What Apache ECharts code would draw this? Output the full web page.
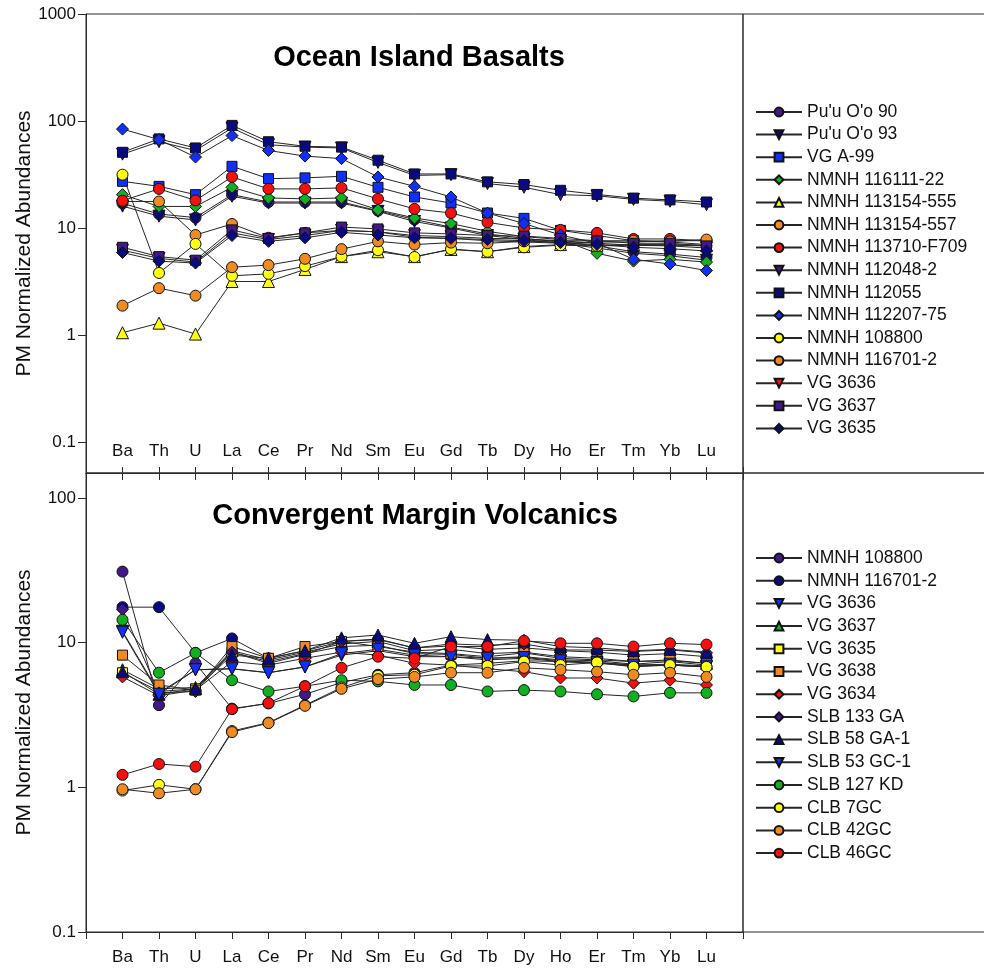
<!DOCTYPE html>
<html>
<head>
<meta charset="utf-8">
<script src="https://cdn.jsdelivr.net/npm/echarts@6/dist/echarts.min.js"></script>
<style>
  html, body { margin: 0; padding: 0; background: #fff; }
  #chart { width: 984px; height: 970px; }
</style>
</head>
<body>
<div id="chart"></div>
<script>
// element order on the x axis
const ELEMENTS = ['Ba', 'Th', 'U', 'La', 'Ce', 'Pr', 'Nd', 'Sm', 'Eu', 'Gd', 'Tb', 'Dy', 'Ho', 'Er', 'Tm', 'Yb', 'Lu'];
// decade ticks of the log axes
const OIB_TICKS = [0.1, 1, 10, 100, 1000];
const CMV_TICKS = [0.1, 1, 10, 100];

// ---------------------------------------------------------------------------
// Ocean Island Basalts (top panel)
const oibNames = ["Pu'u O'o 90", "Pu'u O'o 93", 'VG A-99', 'NMNH 116111-22', 'NMNH 113154-555',
  'NMNH 113154-557', 'NMNH 113710-F709', 'NMNH 112048-2', 'NMNH 112055', 'NMNH 112207-75',
  'NMNH 108800', 'NMNH 116701-2', 'VG 3636', 'VG 3637', 'VG 3635'];

const puuOo90      = [17, 13.5, 12.5, 20.5, 17.5, 17.5, 17.5, 14.5, 12, 10.2, 8.8, 8.0, 7.4, 6.8, 6.0, 5.7, 5.3];
const puuOo93      = [16, 12.9, 11.9, 19.8, 17.1, 17.1, 17.1, 14.3, 11.5, 10, 8.5, 7.8, 7.2, 6.5, 5.8, 5.5, 5.0];
const vgA99        = [27.3, 24.5, 20.5, 37.7, 28.9, 29.4, 30.4, 24, 19.5, 17.1, 13.8, 12.3, 9.5, 8.5, 7.6, 7.4, 7.0];
const n116111_22   = [20.5, 15.9, 15.9, 24, 19.1, 18.7, 19.1, 14.8, 12.4, 11, 9.3, 8.3, 7.8, 5.8, 4.9, 5.1, 4.8];
const n113154_555  = [1.05, 1.29, 1.02, 3.16, 3.16, 4.1, 5.4, 6.0, 5.4, 6.3, 6.0, 6.7, 7.0, 6.9, 7.0, 7.0, 6.9];
const n113154_557  = [17.7, 17.7, 8.6, 10.9, 8.1, 9.0, 9.5, 9.2, 8.2, 8.0, 7.6, 7.4, 7.2, 7.4, 7.4, 7.6, 7.6];
const n113710_F709 = [18, 23.2, 18.1, 30, 23.2, 23.2, 23.7, 18.7, 15.1, 13.8, 11.3, 10.0, 9.6, 9.0, 7.9, 7.9, 7.6];
const n112048_2    = [49, 64, 53, 86, 60, 57, 56, 41, 31, 31.5, 26, 24, 20.5, 20, 18.5, 17.8, 16.5];
const n112055      = [51, 68, 56, 91, 64, 58, 57, 43, 32, 32, 27, 25.5, 22.5, 20.6, 19, 18.3, 17.5];
const n112207_75   = [84, 67, 46, 73, 53, 47, 44.5, 30, 24.5, 19.5, 13.8, 11, 8.6, 7.2, 5.1, 4.6, 4.0];
const oib108800    = [31.5, 3.8, 7.1, 3.57, 3.73, 4.4, 5.4, 6.2, 5.35, 6.35, 6.0, 6.6, 6.9, 6.8, 6.9, 6.9, 6.8];
const oib116701_2  = [1.88, 2.74, 2.33, 4.3, 4.5, 5.15, 6.35, 7.5, 7.0, 7.3, 7.2, 7.5, 7.6, 7.6, 7.6, 7.5, 7.8];
const oibVg3636    = [6.2, 5.2, 4.8, 9.0, 7.8, 8.5, 9.5, 9.2, 8.5, 8.3, 8.0, 7.9, 7.6, 7.2, 6.9, 6.8, 6.5];
const oibVg3637    = [6.6, 5.4, 5.0, 9.6, 8.0, 9.0, 10.2, 9.8, 9.0, 8.8, 8.5, 8.4, 8.0, 7.6, 7.2, 7.2, 6.8];
const oibVg3635    = [5.9, 4.9, 4.7, 8.5, 7.5, 8.1, 9.1, 8.6, 8.1, 8.0, 7.8, 7.6, 7.3, 7.0, 6.6, 6.4, 6.1];

// ---------------------------------------------------------------------------
// Convergent Margin Volcanics (bottom panel)
const cmvNames = ['NMNH 108800', 'NMNH 116701-2', 'VG 3636', 'VG 3637', 'VG 3635', 'VG 3638', 'VG 3634',
  'SLB 133 GA', 'SLB 58 GA-1', 'SLB 53 GC-1', 'SLB 127 KD', 'CLB 7GC', 'CLB 42GC', 'CLB 46GC'];

const cmv108800   = [31, 3.7, 7.2, 3.5, 3.8, 4.4, 5.3, 6.0, 6.2, 7.0, 7.2, 7.5, 7.4, 7.3, 7.0, 7.0, 6.8];
const cmv116701_2 = [17.6, 17.6, 8.5, 10.7, 7.8, 8.8, 10.2, 10.5, 9.2, 9.5, 9.0, 9.2, 8.8, 8.6, 8.2, 8.4, 8.0];
const cmvVg3636   = [12, 4.5, 6.5, 6.6, 6.2, 6.8, 8.2, 8.8, 8.0, 8.0, 7.6, 7.8, 7.4, 7.2, 6.9, 7.0, 6.8];
const cmvVg3637   = [6.5, 4.8, 4.9, 8.8, 7.6, 8.6, 9.8, 10.2, 8.8, 9.0, 8.4, 8.6, 8.0, 7.8, 7.4, 7.5, 7.2];
const cmvVg3635   = [6.2, 4.6, 4.8, 8.6, 7.4, 8.4, 9.4, 9.6, 8.4, 8.3, 7.8, 8.0, 7.6, 7.5, 7.1, 7.4, 7.0];
const cmvVg3638   = [8.2, 5.1, 4.7, 9.4, 7.8, 9.4, 10.2, 9.4, 8.6, 8.4, 8.0, 8.5, 7.8, 7.6, 7.4, 7.6, 7.2];
const cmvVg3634   = [5.8, 4.3, 4.7, 7.4, 7.0, 7.8, 8.6, 8.2, 7.2, 7.0, 6.6, 6.3, 5.7, 5.7, 5.25, 5.5, 5.1];
const slb133GA    = [17, 4.5, 4.6, 8.6, 7.2, 8.3, 10.2, 10.6, 9.2, 9.8, 9.6, 9.8, 8.9, 8.9, 8.7, 8.9, 8.5];
const slb58GA1    = [6.3, 4.4, 4.8, 8.2, 7.8, 8.8, 10.8, 11.3, 9.9, 11.0, 10.5, 10.4, 9.4, 9.2, 8.8, 9.0, 8.6];
const slb53GC1    = [11.8, 4.4, 6.5, 6.6, 6.2, 6.8, 8.4, 9.0, 8.2, 8.0, 7.8, 7.9, 7.5, 7.3, 7.0, 7.1, 6.9];
const slb127KD    = [14.4, 6.2, 8.5, 5.5, 4.6, 5.0, 5.5, 5.4, 5.1, 5.1, 4.6, 4.7, 4.6, 4.4, 4.25, 4.5, 4.5];
const clb7GC      = [0.95, 1.04, 0.97, 2.45, 2.8, 3.7, 4.9, 5.9, 6.0, 6.9, 6.9, 7.4, 7.0, 7.3, 6.8, 7.0, 6.8];
const clb42GC     = [0.97, 0.91, 0.97, 2.41, 2.78, 3.66, 4.8, 5.6, 5.8, 6.2, 6.2, 6.7, 6.5, 6.3, 6.0, 6.2, 5.8];
const clb46GC     = [1.22, 1.45, 1.39, 3.47, 3.82, 5.0, 6.7, 8.0, 7.8, 9.4, 9.4, 10.3, 9.9, 9.9, 9.4, 9.9, 9.7];

const oibValues = [puuOo90, puuOo93, vgA99, n116111_22, n113154_555, n113154_557, n113710_F709,
  n112048_2, n112055, n112207_75, oib108800, oib116701_2, oibVg3636, oibVg3637, oibVg3635];
const cmvValues = [cmv108800, cmv116701_2, cmvVg3636, cmvVg3637, cmvVg3635, cmvVg3638, cmvVg3634,
  slb133GA, slb58GA1, slb53GC1, slb127KD, clb7GC, clb42GC, clb46GC];

// ---------------------------------------------------------------------------
// styles
const PURPLE = '#401888', NAVY = '#0a0a80', BLUE = '#1030f5', GREEN = '#10b020',
  YELLOW = '#ffff10', ORANGE = '#f08a22', RED = '#f51010';
const DOWN = 'path://M0,0 L10,0 L5,9 Z';
const UP = 'path://M5,0 L10,9 L0,9 Z';

const oibStyles = [['circle', PURPLE], [DOWN, NAVY], ['rect', BLUE], ['diamond', GREEN], [UP, YELLOW],
  ['circle', ORANGE], ['circle', RED], [DOWN, PURPLE], ['rect', NAVY], ['diamond', BLUE],
  ['circle', YELLOW], ['circle', ORANGE], [DOWN, RED], ['rect', PURPLE], ['diamond', NAVY]];
const cmvStyles = [['circle', PURPLE], ['circle', NAVY], [DOWN, BLUE], [UP, GREEN], ['rect', YELLOW],
  ['rect', ORANGE], ['diamond', RED], ['diamond', PURPLE], [UP, NAVY], [DOWN, BLUE],
  ['circle', GREEN], ['circle', YELLOW], ['circle', ORANGE], ['circle', RED]];

const fontFamily = '"Liberation Sans", Arial, sans-serif';
const frameColor = '#2a2a2a';

// bottom names get a trailing space so the two legends don't share icons
const cmvKeys = cmvNames.map(function (n) { return n + ' '; });

function logLabel(v) {
  const e = Math.log10(v);
  if (Math.abs(e - Math.round(e)) > 1e-6) return '';
  return String(+Math.pow(10, Math.round(e)).toPrecision(1));
}

function makeSeries(names, values, styles, idx) {
  return names.map(function (name, k) {
    const sym = styles[k][0];
    return {
      name: name,
      type: 'line',
      xAxisIndex: idx === 0 ? 0 : 1,
      yAxisIndex: idx,
      data: values[k].map(function (v, i) { return [i, v]; }),
      symbol: sym,
      symbolSize: sym === 'circle' ? 11 : (sym === 'rect' ? 10 : 12),
      lineStyle: { color: '#262626', width: 1 },
      itemStyle: { color: styles[k][1], borderColor: '#111', borderWidth: 1 },
      emphasis: { disabled: true }
    };
  });
}

function xAxisBase(gridIndex) {
  return {
    gridIndex: gridIndex,
    type: 'value',
    min: -1,
    max: 17,
    interval: 1,
    splitLine: { show: false },
    axisLine: { show: true, onZero: false, lineStyle: { color: frameColor, width: 1 } }
  };
}

function yAxisBase(gridIndex, min, max, ticks) {
  return {
    gridIndex: gridIndex,
    type: 'log',
    logBase: 10,
    min: min,
    max: max,
    name: 'PM Normalized Abundances',
    nameLocation: 'middle',
    nameGap: 51,
    nameMoveOverlap: false,
    nameTextStyle: { fontSize: 21, fontFamily: fontFamily, color: '#111' },
    splitLine: { show: false },
    minorTick: { show: false },
    axisLine: { show: true, onZero: false, lineStyle: { color: frameColor, width: 1 } },
    axisTick: { show: true, length: 8, customValues: ticks, lineStyle: { color: frameColor } },
    axisLabel: { formatter: logLabel, customValues: ticks, margin: 10, fontSize: 17,
      fontFamily: fontFamily, color: '#111' }
  };
}

const xTop = xAxisBase(0);
xTop.axisTick = { show: true, inside: true, length: 6, lineStyle: { color: frameColor } };
xTop.axisLabel = { inside: true, margin: 13, fontSize: 17, fontFamily: fontFamily, color: '#111',
  formatter: function (v) { return ELEMENTS[v] || ''; } };

const xBottom = xAxisBase(1);
xBottom.axisTick = { show: true, length: 7, lineStyle: { color: frameColor } };
xBottom.axisLabel = { margin: 17, fontSize: 17, fontFamily: fontFamily, color: '#111',
  formatter: function (v) { return ELEMENTS[v] || ''; } };

const xBottomTop = xAxisBase(1);
xBottomTop.position = 'top';
xBottomTop.axisTick = { show: true, inside: true, length: 7, lineStyle: { color: frameColor } };
xBottomTop.axisLabel = { show: false };

const legendText = { fontSize: 17.5, fontFamily: fontFamily, color: '#111' };

const chart = echarts.init(document.getElementById('chart'), null, { renderer: 'canvas' });
chart.setOption({
  animation: false,
  backgroundColor: '#fff',
  title: [
    { text: 'Ocean Island Basalts', left: 414, top: 38, textAlign: 'center',
      textStyle: { fontSize: 29, fontWeight: 'bold', fontFamily: fontFamily, color: '#000' } },
    { text: 'Convergent Margin Volcanics', left: 410, top: 496, textAlign: 'center',
      textStyle: { fontSize: 29, fontWeight: 'bold', fontFamily: fontFamily, color: '#000' } }
  ],
  grid: [
    { left: 86, top: 14, width: 657, height: 459, outerBoundsMode: 'none', containLabel: false,
      show: true, borderColor: frameColor, borderWidth: 1 },
    { left: 86, top: 473, width: 657, height: 459, outerBoundsMode: 'none', containLabel: false,
      show: true, borderColor: frameColor, borderWidth: 1 }
  ],
  xAxis: [xTop, xBottom, xBottomTop],
  yAxis: [yAxisBase(0, 0.0513, 1000, OIB_TICKS), yAxisBase(1, 0.1, 148.9, CMV_TICKS)],
  legend: [
    { orient: 'vertical', left: 750, top: 98, itemWidth: 46, itemHeight: 11, itemGap: 4.6,
      selectedMode: false, data: oibNames, textStyle: legendText },
    { orient: 'vertical', left: 750, top: 544, itemWidth: 46, itemHeight: 11, itemGap: 4.7,
      selectedMode: false, data: cmvKeys, textStyle: legendText }
  ],
  graphic: [
    { type: 'rect', shape: { x: 743, y: 14, width: 300, height: 459 }, z: 0,
      style: { fill: null, stroke: frameColor, lineWidth: 1 } },
    { type: 'rect', shape: { x: 743, y: 473, width: 300, height: 459 }, z: 0,
      style: { fill: null, stroke: frameColor, lineWidth: 1 } }
  ],
  series: makeSeries(oibNames, oibValues, oibStyles, 0).concat(makeSeries(cmvKeys, cmvValues, cmvStyles, 1))
});
</script>
</body>
</html>
